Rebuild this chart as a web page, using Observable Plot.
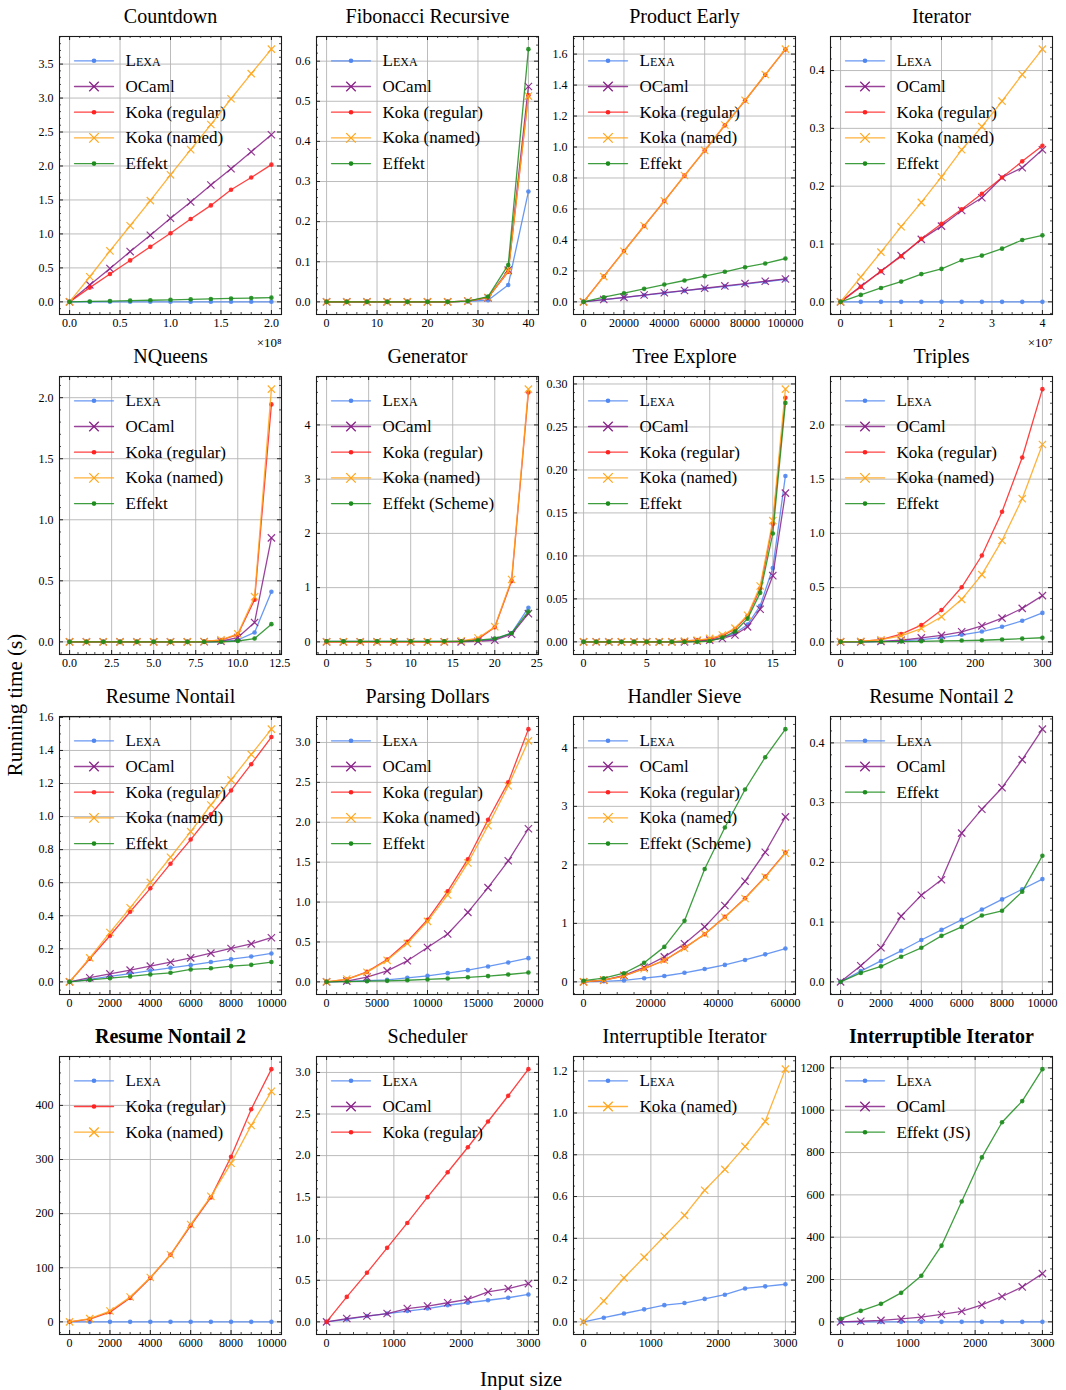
<!DOCTYPE html>
<html><head><meta charset="utf-8">
<script src="https://cdn.jsdelivr.net/npm/d3@7"></script>
<script src="https://cdn.jsdelivr.net/npm/@observablehq/plot@0.6"></script>
<style>
body{margin:0;background:#fff;font-family:"Liberation Serif",serif;}
#root{position:relative;width:1066px;height:1390px;overflow:hidden;}
.panel{position:absolute;}
.panel svg{overflow:visible;}
#ylab{position:absolute;left:15px;top:705px;transform:translate(-50%,-50%) rotate(-90deg);font-size:21px;white-space:nowrap;}
#xlab{position:absolute;left:521px;top:1379px;transform:translate(-50%,-50%);font-size:21px;white-space:nowrap;}
</style></head><body><div id="root"><div id="ylab">Running time (s)</div><div id="xlab">Input size</div></div>
<script>
// ---------- series styles ----------
const seriesKeys   = ["lexa", "ocaml", "kokaReg", "kokaNamed", "effekt"];
const seriesColors = ["#4f86f0", "#882288", "#ff2020", "#ffa51a", "#1c8c1c"];
const seriesSymbols= ["circle", "times", "circle", "times", "circle"];

// ---------- Countdown ----------
const cd_x = [0, 2e7, 4e7, 6e7, 8e7, 1e8, 1.2e8, 1.4e8, 1.6e8, 1.8e8, 2e8];
const cd_lexa = [0, 0.001, 0.001, 0.001, 0.001, 0.001, 0.001, 0.001, 0.001, 0.001, 0.001];
const cd_ocaml = [0, 0.25, 0.49, 0.74, 0.98, 1.23, 1.47, 1.72, 1.96, 2.21, 2.46];
const cd_kokaReg = [0, 0.21, 0.41, 0.61, 0.81, 1.01, 1.22, 1.42, 1.65, 1.83, 2.02];
const cd_kokaNamed = [0, 0.37, 0.75, 1.12, 1.49, 1.87, 2.24, 2.61, 2.99, 3.36, 3.72];
const cd_effekt = [0, 0.006, 0.012, 0.018, 0.024, 0.030, 0.037, 0.043, 0.050, 0.056, 0.062];
const cd_xticks = [0, 0.5e8, 1e8, 1.5e8, 2e8];
const cd_yticks = [0, 0.5, 1.0, 1.5, 2.0, 2.5, 3.0, 3.5];

// ---------- Fibonacci Recursive ----------
const fib_x = [0, 4, 8, 12, 16, 20, 24, 28, 32, 36, 40];
const fib_lexa = [0, 0, 0, 0, 0, 0, 0, 0.001, 0.004, 0.042, 0.275];
const fib_ocaml = [0, 0, 0, 0, 0, 0, 0, 0.002, 0.010, 0.079, 0.537];
const fib_kokaReg = [0, 0, 0, 0, 0, 0, 0, 0.002, 0.011, 0.075, 0.515];
const fib_kokaNamed = [0, 0, 0, 0, 0, 0, 0, 0.002, 0.011, 0.076, 0.513];
const fib_effekt = [0, 0, 0, 0, 0, 0, 0, 0.002, 0.013, 0.092, 0.630];
const fib_xticks = [0, 10, 20, 30, 40];
const fib_yticks = [0, 0.1, 0.2, 0.3, 0.4, 0.5, 0.6];

// ---------- Product Early ----------
const pe_x = [0, 10000, 20000, 30000, 40000, 50000, 60000, 70000, 80000, 90000, 100000];
const pe_lexa = [0, 0.014, 0.028, 0.043, 0.057, 0.072, 0.086, 0.100, 0.115, 0.130, 0.145];
const pe_ocaml = [0, 0.015, 0.029, 0.044, 0.059, 0.073, 0.088, 0.103, 0.118, 0.133, 0.148];
const pe_kokaReg = [0, 0.164, 0.328, 0.490, 0.651, 0.815, 0.977, 1.140, 1.300, 1.466, 1.630];
const pe_kokaNamed = [0, 0.163, 0.327, 0.491, 0.652, 0.816, 0.978, 1.142, 1.302, 1.468, 1.632];
const pe_effekt = [0, 0.030, 0.056, 0.084, 0.112, 0.138, 0.166, 0.194, 0.224, 0.248, 0.280];
const pe_xticks = [0, 20000, 40000, 60000, 80000, 100000];
const pe_yticks = [0, 0.2, 0.4, 0.6, 0.8, 1.0, 1.2, 1.4, 1.6];

// ---------- Iterator ----------
const it_x = [0, 4e6, 8e6, 1.2e7, 1.6e7, 2e7, 2.4e7, 2.8e7, 3.2e7, 3.6e7, 4e7];
const it_lexa = [0, 0, 0, 0, 0, 0, 0, 0, 0, 0, 0];
const it_ocaml = [0, 0.027, 0.053, 0.080, 0.108, 0.131, 0.158, 0.180, 0.215, 0.232, 0.263];
const it_kokaReg = [0, 0.026, 0.053, 0.079, 0.109, 0.135, 0.160, 0.187, 0.215, 0.243, 0.270];
const it_kokaNamed = [0, 0.043, 0.086, 0.130, 0.172, 0.216, 0.263, 0.303, 0.347, 0.393, 0.437];
const it_effekt = [0, 0.012, 0.024, 0.035, 0.048, 0.057, 0.072, 0.080, 0.092, 0.107, 0.115];
const it_xticks = [0, 1e7, 2e7, 3e7, 4e7];
const it_yticks = [0, 0.1, 0.2, 0.3, 0.4];

// ---------- NQueens ----------
const nq_x = [0, 1, 2, 3, 4, 5, 6, 7, 8, 9, 10, 11, 12];
const nq_lexa = [0, 0, 0, 0, 0, 0, 0, 0, 0.001, 0.002, 0.015, 0.077, 0.411];
const nq_ocaml = [0, 0, 0, 0, 0, 0, 0, 0, 0.001, 0.005, 0.035, 0.159, 0.852];
const nq_kokaReg = [0, 0, 0, 0, 0, 0, 0, 0, 0.003, 0.015, 0.060, 0.345, 1.945];
const nq_kokaNamed = [0, 0, 0, 0, 0, 0, 0, 0, 0.003, 0.017, 0.065, 0.370, 2.070];
const nq_effekt = [0, 0, 0, 0, 0, 0, 0, 0, 0, 0.001, 0.007, 0.027, 0.145];
const nq_xticks = [0, 2.5, 5, 7.5, 10, 12.5];
const nq_yticks = [0, 0.5, 1.0, 1.5, 2.0];

// ---------- Generator ----------
const gen_x = [0, 2, 4, 6, 8, 10, 12, 14, 16, 18, 20, 22, 24];
const gen_lexa = [0.01, 0.01, 0.01, 0.01, 0.01, 0.01, 0.01, 0.01, 0.01, 0.02, 0.05, 0.16, 0.63];
const gen_ocaml = [0, 0, 0, 0, 0, 0, 0, 0, 0, 0.01, 0.03, 0.14, 0.52];
const gen_kokaReg = [0, 0, 0, 0, 0, 0, 0, 0, 0.01, 0.05, 0.27, 1.12, 4.60];
const gen_kokaNamed = [0, 0, 0, 0, 0, 0, 0, 0, 0.02, 0.07, 0.28, 1.15, 4.66];
const gen_effekt = [0.01, 0.01, 0.01, 0.01, 0.01, 0.01, 0.01, 0.01, 0.01, 0.03, 0.06, 0.16, 0.56];
const gen_xticks = [0, 5, 10, 15, 20, 25];
const gen_yticks = [0, 1, 2, 3, 4];

// ---------- Tree Explore ----------
const te_x = [0, 1, 2, 3, 4, 5, 6, 7, 8, 9, 10, 11, 12, 13, 14, 15, 16];
const te_lexa = [0, 0, 0, 0, 0, 0, 0, 0, 0, 0.001, 0.002, 0.005, 0.010, 0.020, 0.042, 0.086, 0.193];
const te_ocaml = [0, 0, 0, 0, 0, 0, 0, 0, 0, 0.001, 0.002, 0.004, 0.008, 0.0175, 0.038, 0.077, 0.173];
const te_kokaReg = [0, 0, 0, 0, 0, 0, 0, 0, 0.001, 0.002, 0.003, 0.007, 0.015, 0.030, 0.062, 0.137, 0.284];
const te_kokaNamed = [0, 0, 0, 0, 0, 0, 0, 0, 0.001, 0.002, 0.004, 0.008, 0.016, 0.031, 0.065, 0.141, 0.294];
const te_effekt = [0, 0, 0, 0, 0, 0, 0, 0, 0, 0, 0.001, 0.005, 0.012, 0.027, 0.057, 0.126, 0.278];
const te_xticks = [0, 5, 10, 15];
const te_yticks = [0, 0.05, 0.10, 0.15, 0.20, 0.25, 0.30];

// ---------- Triples ----------
const tr_x = [0, 30, 60, 90, 120, 150, 180, 210, 240, 270, 300];
const tr_lexa = [0, 0, 0.002, 0.010, 0.020, 0.040, 0.065, 0.095, 0.139, 0.194, 0.267];
const tr_ocaml = [0, 0, 0.005, 0.015, 0.037, 0.060, 0.093, 0.148, 0.219, 0.309, 0.426];
const tr_kokaReg = [0.003, 0.005, 0.020, 0.071, 0.154, 0.293, 0.503, 0.796, 1.200, 1.700, 2.330];
const tr_kokaNamed = [0.002, 0.004, 0.020, 0.055, 0.123, 0.231, 0.392, 0.620, 0.935, 1.320, 1.820];
const tr_effekt = [0, 0, 0.002, 0.003, 0.005, 0.009, 0.012, 0.015, 0.022, 0.030, 0.038];
const tr_xticks = [0, 100, 200, 300];
const tr_yticks = [0, 0.5, 1.0, 1.5, 2.0];

// ---------- Resume Nontail ----------
const rn_x = [0, 1000, 2000, 3000, 4000, 5000, 6000, 7000, 8000, 9000, 10000];
const rn_lexa = [0, 0.015, 0.033, 0.050, 0.068, 0.085, 0.101, 0.120, 0.137, 0.153, 0.172];
const rn_ocaml = [0, 0.025, 0.048, 0.071, 0.095, 0.119, 0.145, 0.174, 0.202, 0.230, 0.267];
const rn_kokaReg = [0, 0.140, 0.279, 0.424, 0.566, 0.715, 0.861, 1.014, 1.158, 1.317, 1.481];
const rn_kokaNamed = [0, 0.145, 0.299, 0.448, 0.602, 0.754, 0.909, 1.070, 1.222, 1.376, 1.529];
const rn_effekt = [0, 0.012, 0.022, 0.033, 0.045, 0.055, 0.075, 0.082, 0.095, 0.103, 0.120];
const rn_xticks = [0, 2000, 4000, 6000, 8000, 10000];
const rn_yticks = [0, 0.2, 0.4, 0.6, 0.8, 1.0, 1.2, 1.4, 1.6];

// ---------- Parsing Dollars ----------
const pd_x = [0, 2000, 4000, 6000, 8000, 10000, 12000, 14000, 16000, 18000, 20000];
const pd_lexa = [0, 0.005, 0.015, 0.025, 0.050, 0.075, 0.109, 0.147, 0.193, 0.243, 0.297];
const pd_ocaml = [0, 0.010, 0.060, 0.138, 0.264, 0.431, 0.600, 0.871, 1.181, 1.517, 1.919];
const pd_kokaReg = [0, 0.030, 0.125, 0.280, 0.503, 0.779, 1.135, 1.537, 2.032, 2.500, 3.167];
const pd_kokaNamed = [0, 0.035, 0.120, 0.270, 0.482, 0.758, 1.089, 1.490, 1.956, 2.455, 3.020];
const pd_effekt = [0, 0.003, 0.008, 0.013, 0.020, 0.030, 0.042, 0.057, 0.072, 0.092, 0.117];
const pd_xticks = [0, 5000, 10000, 15000, 20000];
const pd_yticks = [0, 0.5, 1.0, 1.5, 2.0, 2.5, 3.0];

// ---------- Handler Sieve ----------
const hs_x = [0, 6000, 12000, 18000, 24000, 30000, 36000, 42000, 48000, 54000, 60000];
const hs_lexa = [0, 0.010, 0.025, 0.063, 0.100, 0.155, 0.220, 0.290, 0.375, 0.470, 0.570];
const hs_ocaml = [0, 0.030, 0.110, 0.250, 0.427, 0.650, 0.940, 1.305, 1.720, 2.216, 2.820];
const hs_kokaReg = [0, 0.030, 0.100, 0.228, 0.365, 0.581, 0.815, 1.111, 1.430, 1.800, 2.210];
const hs_kokaNamed = [0, 0.030, 0.100, 0.225, 0.370, 0.575, 0.820, 1.105, 1.425, 1.790, 2.200];
const hs_effekt = [0.020, 0.063, 0.148, 0.325, 0.598, 1.043, 1.930, 2.638, 3.288, 3.840, 4.320];
const hs_xticks = [0, 20000, 40000, 60000];
const hs_yticks = [0, 1, 2, 3, 4];

// ---------- Resume Nontail 2 ----------
const rn2_x = [0, 1000, 2000, 3000, 4000, 5000, 6000, 7000, 8000, 9000, 10000];
const rn2_lexa = [0, 0.018, 0.035, 0.052, 0.070, 0.087, 0.104, 0.121, 0.138, 0.155, 0.172];
const rn2_ocaml = [0, 0.027, 0.057, 0.110, 0.145, 0.171, 0.249, 0.289, 0.325, 0.372, 0.423];
const rn2_effekt = [0, 0.015, 0.026, 0.042, 0.057, 0.077, 0.092, 0.111, 0.119, 0.151, 0.211];
const rn2_xticks = [0, 2000, 4000, 6000, 8000, 10000];
const rn2_yticks = [0, 0.1, 0.2, 0.3, 0.4];

// ---------- Resume Nontail 2 (bold) ----------
const rn2b_x = [0, 1000, 2000, 3000, 4000, 5000, 6000, 7000, 8000, 9000, 10000];
const rn2b_lexa = [0, 0, 0, 0, 0, 0, 0, 0, 0, 0, 0];
const rn2b_kokaReg = [0, 5, 18, 44, 81, 124, 178, 230, 305, 393, 467];
const rn2b_kokaNamed = [0, 6, 20, 46, 82, 124, 180, 232, 293, 363, 426];
const rn2b_xticks = [0, 2000, 4000, 6000, 8000, 10000];
const rn2b_yticks = [0, 100, 200, 300, 400];

// ---------- Scheduler ----------
const sch_x = [0, 300, 600, 900, 1200, 1500, 1800, 2100, 2400, 2700, 3000];
const sch_lexa = [0, 0.03, 0.07, 0.10, 0.13, 0.16, 0.20, 0.23, 0.26, 0.29, 0.33];
const sch_ocaml = [0, 0.04, 0.07, 0.10, 0.16, 0.19, 0.23, 0.27, 0.36, 0.40, 0.46];
const sch_kokaReg = [0, 0.30, 0.59, 0.89, 1.19, 1.50, 1.80, 2.10, 2.41, 2.72, 3.04];
const sch_xticks = [0, 1000, 2000, 3000];
const sch_yticks = [0, 0.5, 1.0, 1.5, 2.0, 2.5, 3.0];

// ---------- Interruptible Iterator ----------
const ii_x = [0, 300, 600, 900, 1200, 1500, 1800, 2100, 2400, 2700, 3000];
const ii_lexa = [0, 0.02, 0.04, 0.06, 0.08, 0.09, 0.11, 0.13, 0.16, 0.17, 0.18];
const ii_kokaNamed = [0, 0.10, 0.21, 0.31, 0.41, 0.51, 0.63, 0.73, 0.84, 0.96, 1.21];
const ii_xticks = [0, 1000, 2000, 3000];
const ii_yticks = [0, 0.2, 0.4, 0.6, 0.8, 1.0, 1.2];

// ---------- Interruptible Iterator (bold) ----------
const iib_x = [0, 300, 600, 900, 1200, 1500, 1800, 2100, 2400, 2700, 3000];
const iib_lexa = [0, 0, 0, 0, 0, 0, 0, 0, 0, 0, 0];
const iib_ocaml = [0, 3, 7, 14, 22, 35, 50, 80, 120, 165, 228];
const iib_effekt = [15, 52, 85, 137, 218, 360, 569, 777, 943, 1043, 1194];
const iib_xticks = [0, 1000, 2000, 3000];
const iib_yticks = [0, 200, 400, 600, 800, 1000, 1200];

// ---------- panel table built from the arrays ----------
const S = (key, label, y) => ({key, label, y});
const panels = [
  {title: "Countdown", x: cd_x, xt: cd_xticks, yt: cd_yticks, xdec: 1, xexp: 8, ydec: 1,
   series: [S("lexa","Lexa",cd_lexa), S("ocaml","OCaml",cd_ocaml), S("kokaReg","Koka (regular)",cd_kokaReg), S("kokaNamed","Koka (named)",cd_kokaNamed), S("effekt","Effekt",cd_effekt)]},
  {title: "Fibonacci Recursive", x: fib_x, xt: fib_xticks, yt: fib_yticks, xdec: 0, ydec: 1,
   series: [S("lexa","Lexa",fib_lexa), S("ocaml","OCaml",fib_ocaml), S("kokaReg","Koka (regular)",fib_kokaReg), S("kokaNamed","Koka (named)",fib_kokaNamed), S("effekt","Effekt",fib_effekt)]},
  {title: "Product Early", x: pe_x, xt: pe_xticks, yt: pe_yticks, xdec: 0, ydec: 1,
   series: [S("lexa","Lexa",pe_lexa), S("ocaml","OCaml",pe_ocaml), S("kokaReg","Koka (regular)",pe_kokaReg), S("kokaNamed","Koka (named)",pe_kokaNamed), S("effekt","Effekt",pe_effekt)]},
  {title: "Iterator", x: it_x, xt: it_xticks, yt: it_yticks, xdec: 0, xexp: 7, ydec: 1,
   series: [S("lexa","Lexa",it_lexa), S("ocaml","OCaml",it_ocaml), S("kokaReg","Koka (regular)",it_kokaReg), S("kokaNamed","Koka (named)",it_kokaNamed), S("effekt","Effekt",it_effekt)]},
  {title: "NQueens", x: nq_x, xt: nq_xticks, yt: nq_yticks, xdec: 1, ydec: 1,
   series: [S("lexa","Lexa",nq_lexa), S("ocaml","OCaml",nq_ocaml), S("kokaReg","Koka (regular)",nq_kokaReg), S("kokaNamed","Koka (named)",nq_kokaNamed), S("effekt","Effekt",nq_effekt)]},
  {title: "Generator", x: gen_x, xt: gen_xticks, yt: gen_yticks, xdec: 0, ydec: 0,
   series: [S("lexa","Lexa",gen_lexa), S("ocaml","OCaml",gen_ocaml), S("kokaReg","Koka (regular)",gen_kokaReg), S("kokaNamed","Koka (named)",gen_kokaNamed), S("effekt","Effekt (Scheme)",gen_effekt)]},
  {title: "Tree Explore", x: te_x, xt: te_xticks, yt: te_yticks, xdec: 0, ydec: 2,
   series: [S("lexa","Lexa",te_lexa), S("ocaml","OCaml",te_ocaml), S("kokaReg","Koka (regular)",te_kokaReg), S("kokaNamed","Koka (named)",te_kokaNamed), S("effekt","Effekt",te_effekt)]},
  {title: "Triples", x: tr_x, xt: tr_xticks, yt: tr_yticks, xdec: 0, ydec: 1,
   series: [S("lexa","Lexa",tr_lexa), S("ocaml","OCaml",tr_ocaml), S("kokaReg","Koka (regular)",tr_kokaReg), S("kokaNamed","Koka (named)",tr_kokaNamed), S("effekt","Effekt",tr_effekt)]},
  {title: "Resume Nontail", x: rn_x, xt: rn_xticks, yt: rn_yticks, xdec: 0, ydec: 1,
   series: [S("lexa","Lexa",rn_lexa), S("ocaml","OCaml",rn_ocaml), S("kokaReg","Koka (regular)",rn_kokaReg), S("kokaNamed","Koka (named)",rn_kokaNamed), S("effekt","Effekt",rn_effekt)]},
  {title: "Parsing Dollars", x: pd_x, xt: pd_xticks, yt: pd_yticks, xdec: 0, ydec: 1,
   series: [S("lexa","Lexa",pd_lexa), S("ocaml","OCaml",pd_ocaml), S("kokaReg","Koka (regular)",pd_kokaReg), S("kokaNamed","Koka (named)",pd_kokaNamed), S("effekt","Effekt",pd_effekt)]},
  {title: "Handler Sieve", x: hs_x, xt: hs_xticks, yt: hs_yticks, xdec: 0, ydec: 0,
   series: [S("lexa","Lexa",hs_lexa), S("ocaml","OCaml",hs_ocaml), S("kokaReg","Koka (regular)",hs_kokaReg), S("kokaNamed","Koka (named)",hs_kokaNamed), S("effekt","Effekt (Scheme)",hs_effekt)]},
  {title: "Resume Nontail 2", x: rn2_x, xt: rn2_xticks, yt: rn2_yticks, xdec: 0, ydec: 1,
   series: [S("lexa","Lexa",rn2_lexa), S("ocaml","OCaml",rn2_ocaml), S("effekt","Effekt",rn2_effekt)]},
  {title: "Resume Nontail 2", bold: true, x: rn2b_x, xt: rn2b_xticks, yt: rn2b_yticks, xdec: 0, ydec: 0,
   series: [S("lexa","Lexa",rn2b_lexa), S("kokaReg","Koka (regular)",rn2b_kokaReg), S("kokaNamed","Koka (named)",rn2b_kokaNamed)]},
  {title: "Scheduler", x: sch_x, xt: sch_xticks, yt: sch_yticks, xdec: 0, ydec: 1,
   series: [S("lexa","Lexa",sch_lexa), S("ocaml","OCaml",sch_ocaml), S("kokaReg","Koka (regular)",sch_kokaReg)]},
  {title: "Interruptible Iterator", x: ii_x, xt: ii_xticks, yt: ii_yticks, xdec: 0, ydec: 1,
   series: [S("lexa","Lexa",ii_lexa), S("kokaNamed","Koka (named)",ii_kokaNamed)]},
  {title: "Interruptible Iterator", bold: true, x: iib_x, xt: iib_xticks, yt: iib_yticks, xdec: 0, ydec: 0,
   series: [S("lexa","Lexa",iib_lexa), S("ocaml","OCaml",iib_ocaml), S("effekt","Effekt (JS)",iib_effekt)]}
];

// ---------- layout ----------
const FW = 222, FH = 278, ML = 36, MT = 36, MB = 26, MR = 0;
const COLW = 257, ROWH = 340, OX = 23;
const FONT = "'Liberation Serif', 'Times New Roman', serif";

function minorTicks(ticks, dom) {
  const step = ticks[1] - ticks[0];
  const mant = step / Math.pow(10, Math.floor(Math.log10(step) + 1e-9));
  const nd = [1, 2.5, 5, 10].some(m => Math.abs(mant - m) < 1e-6) ? 5 : 4;
  const ms = step / nd, out = [];
  const k0 = Math.ceil((dom[0] - ticks[0]) / ms - 1e-9);
  for (let k = k0; ticks[0] + k * ms <= dom[1] + 1e-9; k++) {
    if (((k % nd) + nd) % nd !== 0) out.push(ticks[0] + k * ms);
  }
  return out;
}

const lineShape = {draw(ctx, l) { ctx.moveTo(0, 0); ctx.lineTo(0, -l); }};

function render(p, idx) {
  const col = idx % 4, row = Math.floor(idx / 4);
  const xmin = d3.min(p.x), xmax = d3.max(p.x);
  const all = p.series.flatMap(s => s.y);
  const ymin = d3.min(all), ymax = d3.max(all);
  const xDom = [xmin - 0.05 * (xmax - xmin), xmax + 0.05 * (xmax - xmin)];
  const yDom = [ymin - 0.05 * (ymax - ymin), ymax + 0.05 * (ymax - ymin)];
  const xMin = minorTicks(p.xt, xDom), yMin = minorTicks(p.yt, yDom);
  const xs = p.xexp ? Math.pow(10, p.xexp) : 1;
  const xfmt = v => (v / xs).toFixed(p.xdec);
  const yfmt = v => v.toFixed(p.ydec);
  const tickStroke = "#222";

  const marks = [
    Plot.gridX(p.xt, {stroke: "#b4b4b4", strokeOpacity: 1, strokeWidth: 0.9}),
    Plot.gridY(p.yt, {stroke: "#b4b4b4", strokeOpacity: 1, strokeWidth: 0.9}),
    Plot.ruleX(p.xt, {insetTop: FH - 4, stroke: tickStroke}),
    Plot.ruleX(p.xt, {insetBottom: FH - 4, stroke: tickStroke}),
    Plot.ruleX(xMin, {insetTop: FH - 2, stroke: tickStroke, strokeWidth: 0.8}),
    Plot.ruleX(xMin, {insetBottom: FH - 2, stroke: tickStroke, strokeWidth: 0.8}),
    Plot.ruleY(p.yt, {insetRight: FW - 4, stroke: tickStroke}),
    Plot.ruleY(p.yt, {insetLeft: FW - 4, stroke: tickStroke}),
    Plot.ruleY(yMin, {insetRight: FW - 2, stroke: tickStroke, strokeWidth: 0.8}),
    Plot.ruleY(yMin, {insetLeft: FW - 2, stroke: tickStroke, strokeWidth: 0.8})
  ];

  p.series.forEach((s, si) => {
    const k = seriesKeys.indexOf(s.key);
    const color = seriesColors[k], sym = seriesSymbols[k];
    const data = s.y.map((v, i) => ({x: p.x[i], y: v}));
    marks.push(Plot.line(data, {x: "x", y: "y", stroke: color, strokeWidth: 1.3, strokeOpacity: 0.85}));
    if (sym === "circle") marks.push(Plot.dot(data, {x: "x", y: "y", r: 2.3, fill: color, fillOpacity: 0.9, stroke: null}));
    else marks.push(Plot.dot(data, {x: "x", y: "y", r: 3.4, symbol: "times", stroke: color, strokeWidth: 1.2, strokeOpacity: 0.9}));
    // legend entry
    const dy = 24.3 + si * 25.7;
    marks.push(Plot.vector([s.label], {frameAnchor: "top-left", dx: 15, dy, length: 39, rotate: 90, anchor: "start", shape: lineShape, stroke: color, strokeWidth: 1.3, strokeOpacity: 0.85, fill: "none"}));
    if (sym === "circle") marks.push(Plot.dot([s.label], {frameAnchor: "top-left", dx: 34.5, dy, r: 2.3, fill: color, stroke: null}));
    else marks.push(Plot.dot([s.label], {frameAnchor: "top-left", dx: 34.5, dy, r: 4.4, symbol: "times", stroke: color, strokeWidth: 1.3}));
    marks.push(Plot.text([s.label], {frameAnchor: "top-left", dx: 66, dy, textAnchor: "start", lineAnchor: "middle", fontSize: 17, fill: "black",
      fontVariant: s.key === "lexa" ? "small-caps" : "normal"}));
  });

  marks.push(
    Plot.frame({stroke: "#1a1a1a", strokeWidth: 1.1}),
    Plot.axisX(p.xt, {tickSize: 0, tickPadding: 4, tickFormat: xfmt, label: null, fontSize: 12, fill: "black"}),
    Plot.axisY(p.yt, {tickSize: 0, tickPadding: 6, tickFormat: yfmt, label: null, fontSize: 12, fill: "black"}),
    Plot.text([p.title], {frameAnchor: "top", dy: -20, lineAnchor: "middle", fontSize: 20, fontWeight: p.bold ? "bold" : "normal", fill: "black"})
  );
  if (p.xexp) marks.push(Plot.text([`×10${p.xexp === 8 ? "⁸" : "⁷"}`], {frameAnchor: "bottom-right", dy: 28, textAnchor: "end", lineAnchor: "middle", fontSize: 13, fill: "black"}));

  const chart = Plot.plot({
    width: ML + FW + MR, height: MT + FH + MB,
    marginLeft: ML, marginRight: MR, marginTop: MT, marginBottom: MB,
    x: {domain: xDom}, y: {domain: yDom},
    style: {fontFamily: FONT, fontSize: "12px", color: "black", background: "transparent", overflow: "visible"},
    marks
  });
  const div = document.createElement("div");
  div.className = "panel";
  div.style.left = (OX + col * COLW) + "px";
  div.style.top = (row * ROWH) + "px";
  div.appendChild(chart);
  document.getElementById("root").appendChild(div);
}

panels.forEach(render);
</script>
</body></html>
